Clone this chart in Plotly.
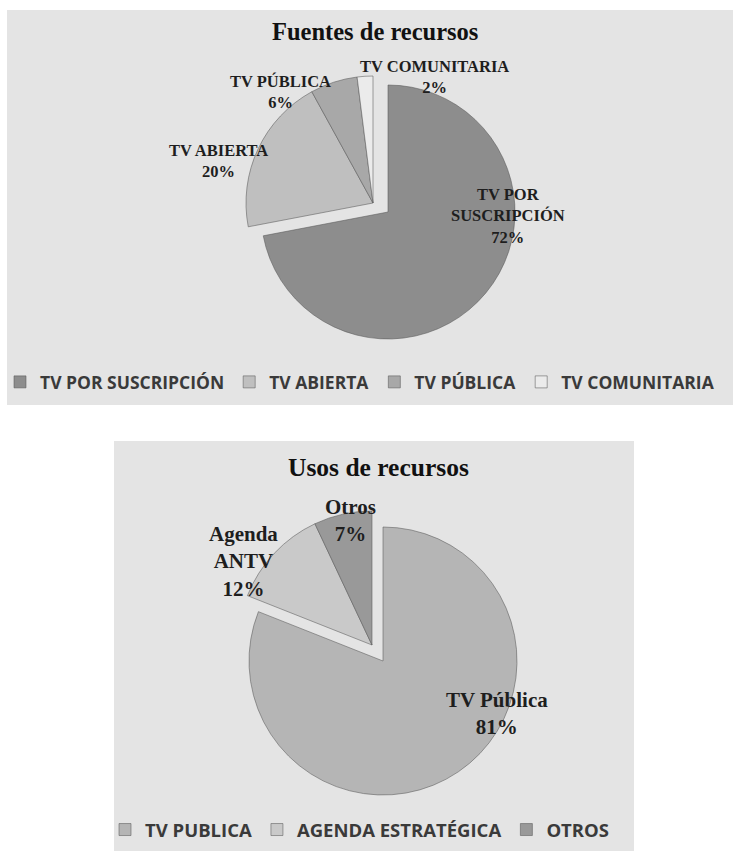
import plotly.graph_objects as go

W, H = 733, 851

# ---------------- data ----------------
fuentes_title = "Fuentes de recursos"
fuentes_cats = ["TV POR SUSCRIPCIÓN", "TV ABIERTA", "TV PÚBLICA", "TV COMUNITARIA"]
fuentes_vals = [72, 20, 6, 2]
fuentes_names = ["TV POR<br>SUSCRIPCIÓN", "TV ABIERTA", "TV PÚBLICA", "TV COMUNITARIA"]

usos_title = "Usos de recursos"
usos_cats = ["TV PUBLICA", "AGENDA ESTRATÉGICA", "OTROS"]
usos_vals = [81, 12, 7]
usos_names = ["TV Pública", "Agenda<br>ANTV", "Otros"]

# ---------------- styles ----------------
fuentes_colors = ["#8d8d8d", "#bfbfbf", "#a8a8a8", "#ebebeb"]
fuentes_explode = [False, True, True, True]
usos_colors = ["#b5b5b5", "#c9c9c9", "#999999"]
usos_explode = [False, True, True]

BOX = "#e4e4e4"
LINE = "rgba(90,90,90,0.55)"
SERIF = "Liberation Serif"
SANS = "Open Sans"


def px(x):
    return x / W


def py(y):
    return 1 - y / H


def dom(cx, cy, r):
    return dict(x=[px(cx - r), px(cx + r)], y=[py(cy + r), py(cy - r)])


def pie_traces(cats, vals, colors, explode, center, r, shift, legend):
    cx, cy = center
    dx, dy = shift
    common = dict(labels=cats, values=vals, sort=False, direction="clockwise",
                  rotation=0, textinfo="none", legend=legend)
    clear = "rgba(0,0,0,0)"
    # legend source (tiny, hidden under the main slice)
    t_leg = go.Pie(**common, marker=dict(colors=colors, line=dict(color=LINE, width=1)),
                   domain=dom(cx + r * 0.4, cy + r * 0.3, 0.01),
                   showlegend=True, hoverinfo="skip")
    # main (non exploded) part
    t_main = go.Pie(**common,
                    marker=dict(colors=[clear if e else c for c, e in zip(colors, explode)],
                                line=dict(color=LINE, width=[0 if e else 1 for e in explode])),
                    domain=dom(cx, cy, r), showlegend=False, hoverinfo="label+percent")
    # exploded group
    t_exp = go.Pie(**common,
                   marker=dict(colors=[c if e else clear for c, e in zip(colors, explode)],
                               line=dict(color=LINE, width=[1 if e else 0 for e in explode])),
                   domain=dom(cx + dx, cy + dy, r), showlegend=False, hoverinfo="label+percent")
    return [t_leg, t_main, t_exp]


fig = go.Figure()
for t in pie_traces(fuentes_cats, fuentes_vals, fuentes_colors, fuentes_explode,
                    (388, 212), 127, (-15, -9), "legend"):
    fig.add_trace(t)
for t in pie_traces(usos_cats, usos_vals, usos_colors, usos_explode,
                    (383, 661), 134, (-11, -16), "legend2"):
    fig.add_trace(t)

# chart boxes
shapes = [
    dict(type="rect", xref="paper", yref="paper", x0=px(7), x1=px(733), y0=py(405), y1=py(10),
         fillcolor=BOX, line=dict(width=0), layer="below"),
    dict(type="rect", xref="paper", yref="paper", x0=px(114), x1=px(634), y0=py(851), y1=py(441),
         fillcolor=BOX, line=dict(width=0), layer="below"),
]


def ann(text, x, y, size, color="#1e1e1e"):
    return dict(text=text, x=px(x), y=py(y), xref="paper", yref="paper",
                xanchor="center", yanchor="middle", showarrow=False,
                font=dict(family=SERIF, size=size, color=color))


annotations = [
    ann("<b>%s</b>" % fuentes_title, 375, 32, 24.5, "#111111"),
    ann("<b>%s</b>" % usos_title, 378, 467, 25.5, "#111111"),
]

fuentes_label_pos = [(508, 216), (219, 161), (280, 92), (434, 77)]
usos_label_pos = [(497, 713), (243, 561), (350, 520)]

for name, v, (x, y) in zip(fuentes_names, fuentes_vals, fuentes_label_pos):
    annotations.append(ann("<b>%s<br>%d%%</b>" % (name, v), x, y, 16.5))
for name, v, (x, y) in zip(usos_names, usos_vals, usos_label_pos):
    annotations.append(ann("<b>%s<br>%d%%</b>" % (name, v), x, y, 21))

legend_font = dict(family=SANS, size=17.5, color="#3a3a3a", weight="bold")
legend2_font = dict(family=SANS, size=18.5, color="#3a3a3a", weight="bold")

fig.update_layout(
    width=W, height=H,
    margin=dict(l=0, r=0, t=0, b=0),
    paper_bgcolor="white",
    plot_bgcolor="white",
    shapes=shapes,
    annotations=annotations,
    legend=dict(orientation="h", x=0, y=py(382), xanchor="left", yanchor="middle",
                font=legend_font, bgcolor="rgba(0,0,0,0)", itemclick=False,
                itemdoubleclick=False),
    legend2=dict(orientation="h", x=px(105), y=py(830), xanchor="left", yanchor="middle",
                 font=legend2_font, bgcolor="rgba(0,0,0,0)", itemclick=False,
                 itemdoubleclick=False),
)

fig.write_html("out.html")
